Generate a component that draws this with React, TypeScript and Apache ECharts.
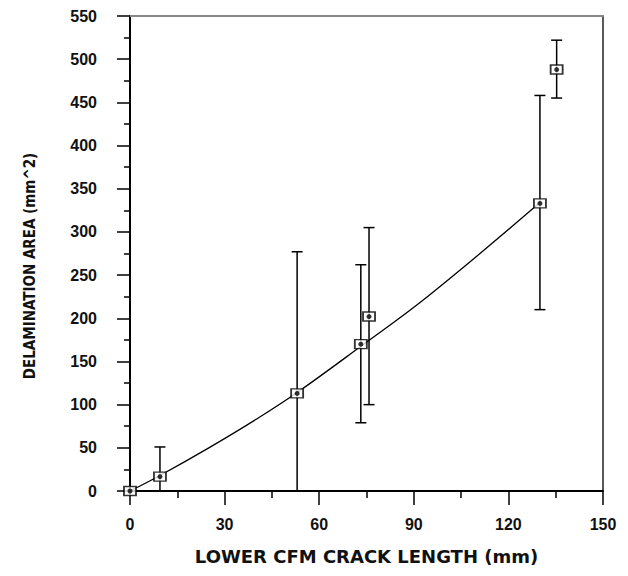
import React, { useEffect, useRef } from "react";
import * as echarts from "echarts";

// Measured points: [crack length (mm), delamination area (mm^2)]
const pointX = [0, 9.5, 53, 73.2, 75.8, 130, 135.3];
const pointY = [0, 16.6, 113, 170, 202, 333, 488];
// Error bar limits
const errLow = [0, 0, 0, 79, 100, 210, 455];
const errHigh = [0, 51, 277, 262, 305, 458, 522];
// Fitted curve
const curveX = [0, 9.5, 25, 40, 53, 73, 95, 130];
const curveY = [0, 18, 50, 83, 114, 167, 227, 334];

const xTitle = "LOWER CFM CRACK LENGTH (mm)";
const yTitle = "DELAMINATION AREA (mm^2)";

export default function App() {
  const ref = useRef<HTMLDivElement>(null);
  useEffect(() => {
    if (!ref.current) return;
    const chart = echarts.init(ref.current, undefined, { renderer: "svg" });
    const pts = pointX.map((x, i) => [x, pointY[i]]);
    const errs = pointX
      .map((x, i) => [x, errLow[i], errHigh[i]])
      .filter((d) => d[2] > d[1]);
    const curve = curveX.map((x, i) => [x, curveY[i]]);
    const labelFont = {
      fontFamily: "Liberation Sans, Arial, sans-serif",
      fontWeight: "bold" as const,
      fontSize: 16,
      color: "#111",
    };
    chart.setOption({
      animation: false,
      backgroundColor: "#fff",
      grid: { left: 130, top: 16, width: 473, height: 475 },
      xAxis: [
        {
          type: "value",
          min: 0,
          max: 150,
          interval: 30,
          axisLine: { show: true, onZero: false, lineStyle: { color: "#000", width: 2 } },
          axisTick: { show: true, length: 14, lineStyle: { color: "#000", width: 1.5 } },
          minorTick: { show: true, splitNumber: 2, length: 7, lineStyle: { color: "#000", width: 1.5 } },
          splitLine: { show: false },
          axisLabel: { ...labelFont, margin: 25 },
          name: xTitle,
          nameLocation: "middle",
          nameGap: 56,
          nameTextStyle: {
            fontFamily: "DejaVu Sans, sans-serif",
            fontWeight: "bold",
            fontSize: 18,
            color: "#111",
          },
        },
        {
          type: "value",
          position: "top",
          min: 0,
          max: 150,
          axisLine: { show: true, onZero: false, lineStyle: { color: "#888", width: 2 } },
          axisTick: { show: false },
          axisLabel: { show: false },
          splitLine: { show: false },
        },
      ],
      yAxis: [
        {
          type: "value",
          min: 0,
          max: 550,
          interval: 50,
          axisLine: { show: true, onZero: false, lineStyle: { color: "#000", width: 2 } },
          axisTick: { show: true, length: 13, lineStyle: { color: "#000", width: 1.5 } },
          minorTick: { show: true, splitNumber: 2, length: 6, lineStyle: { color: "#000", width: 1.5 } },
          splitLine: { show: false },
          axisLabel: { ...labelFont, margin: 33 },
        },
        {
          type: "value",
          position: "right",
          min: 0,
          max: 550,
          axisLine: { show: true, onZero: false, lineStyle: { color: "#222", width: 1.5 } },
          axisTick: { show: false },
          axisLabel: { show: false },
          splitLine: { show: false },
        },
      ],
      graphic: [
        {
          type: "text",
          x: 30,
          y: 266,
          rotation: Math.PI / 2,
          style: {
            text: yTitle,
            fontFamily: "DejaVu Sans Condensed, Liberation Sans Narrow, sans-serif",
            fontWeight: "bold",
            fontSize: 15,
            fill: "#111",
            align: "center",
            verticalAlign: "middle",
          },
        },
      ],
      series: [
        {
          type: "line",
          data: curve,
          smooth: 0.4,
          showSymbol: false,
          symbol: "none",
          lineStyle: { color: "#000", width: 1.3 },
          z: 2,
        },
        {
          type: "custom",
          data: errs,
          z: 3,
          renderItem: (params: any, api: any) => {
            const x = api.value(0);
            const lo = api.coord([x, api.value(1)]);
            const hi = api.coord([x, api.value(2)]);
            const hw = 5.5;
            const style = { stroke: "#000", lineWidth: 1.5 };
            return {
              type: "group",
              children: [
                { type: "line", shape: { x1: lo[0], y1: lo[1], x2: hi[0], y2: hi[1] }, style },
                { type: "line", shape: { x1: hi[0] - hw, y1: hi[1], x2: hi[0] + hw, y2: hi[1] }, style },
                { type: "line", shape: { x1: lo[0] - hw, y1: lo[1], x2: lo[0] + hw, y2: lo[1] }, style },
              ],
            };
          },
        },
        {
          type: "scatter",
          data: pts,
          symbol: "rect",
          symbolSize: [12, 9],
          clip: false,
          itemStyle: { color: "#fff", borderColor: "#000", borderWidth: 1.6 },
          z: 4,
        },
        {
          type: "scatter",
          data: pts,
          symbol: "circle",
          symbolSize: 5,
          clip: false,
          itemStyle: { color: "#000" },
          z: 5,
        },
      ],
    });
    return () => chart.dispose();
  }, []);
  return (
    <div
      ref={ref}
      style={{ position: "fixed", left: 0, top: 0, width: 628, height: 576, background: "#fff" }}
    />
  );
}
